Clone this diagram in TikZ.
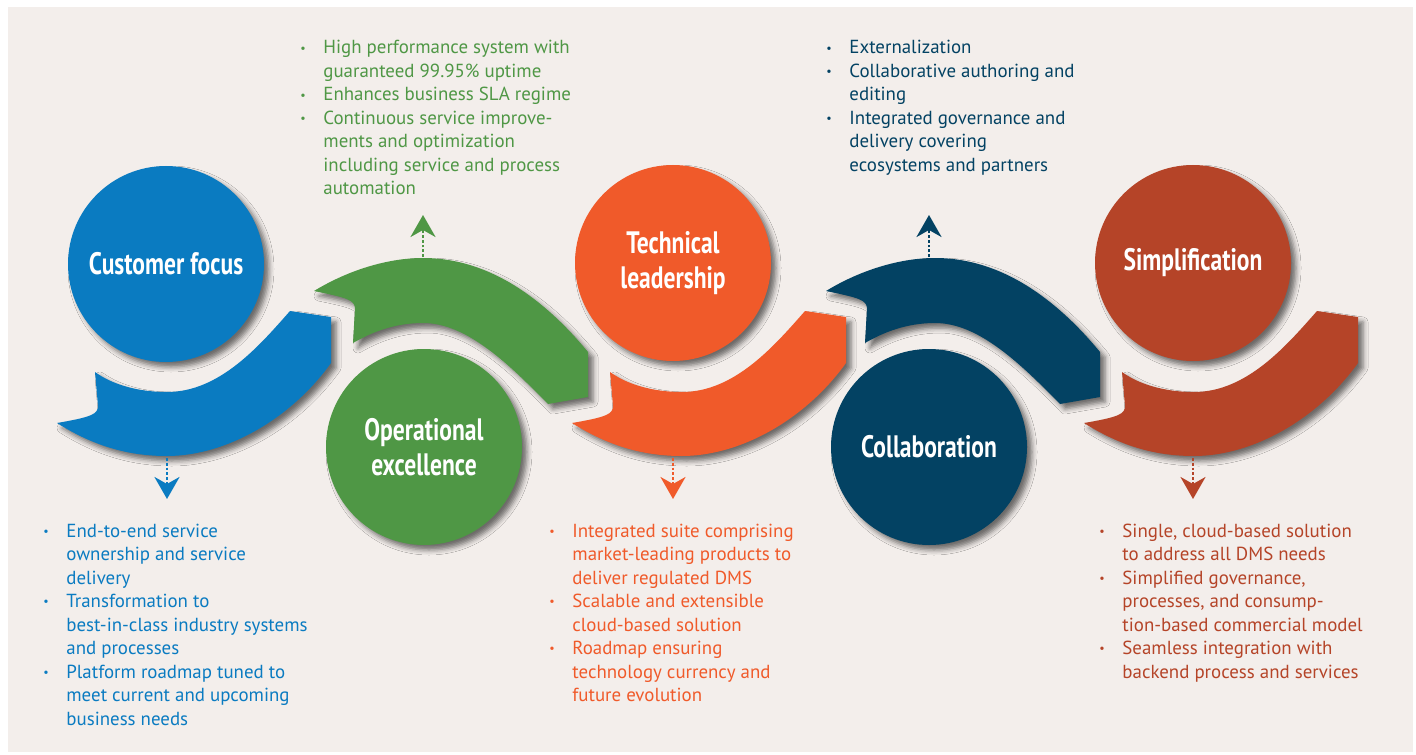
\documentclass[tikz,border=0pt]{standalone}
\usepackage{fontspec}
\setmainfont{PT Sans}
\newfontfamily\titlefont[FakeStretch=0.76]{PT Sans}
\usetikzlibrary{arrows.meta,shadows.blur}

\definecolor{cblue}{HTML}{0A7BC1}
\definecolor{cgreen}{HTML}{4F9745}
\definecolor{corange}{HTML}{F05A2A}
\definecolor{cnavy}{HTML}{034263}
\definecolor{cred}{HTML}{B54428}
\definecolor{panel}{HTML}{F3EEEB}

\newcommand{\bul}{\raisebox{0.2ex}{\fontsize{6}{6}\selectfont\textbullet}}

\begin{document}
\begin{tikzpicture}[x=0.5pt,y=-0.5pt]
    % --- Styles ---
    \tikzset{
        band/.style={
            blur shadow={shadow xshift=2.5pt, shadow yshift=-2.5pt,
                         shadow blur radius=2.5pt, shadow opacity=55}
        },
        pillar/.style={
            circle, fill=#1, minimum size=98pt, inner sep=0pt,
            text=white, align=center, band,
            font=\titlefont\bfseries\fontsize{15.5}{17.5}\selectfont
        },
        pointer/.style={
            draw=#1, line width=1.4pt, densely dotted,
            -{Stealth[length=11pt, width=12.5pt, inset=3.5pt, fill=#1]}
        },
        bullets/.style={
            anchor=base west, inner sep=0pt, text=#1,
            font=\fontsize{9.45}{11.75}\selectfont
        }
    }

    \useasboundingbox (0,0) rectangle (1416,754);

    % =========================================================
    % 1. PANEL
    % =========================================================
    \fill[panel] (8,7) rectangle (1413,752);

    % =========================================================
    % 2. CURVED BANDS
    % =========================================================
    % Lower bands (under the top circles)
    \foreach \dx/\col in {0/cblue, 515/corange, 1027/cred} {
      \begin{scope}[shift={(\dx,0)}]
        \fill[\col, band]
          (57,423) .. controls (95,447) and (130,456) .. (167,456)
          .. controls (225,456) and (290,420) .. (331,363)
          -- (331,317) -- (290,311)
          .. controls (260,345) and (220,392) .. (167,392)
          .. controls (135,392) and (110,383) .. (95,372)
          -- (98,406) .. controls (98,414) and (92,417) .. (57,423) -- cycle;
      \end{scope}
    }

    % Upper bands (over the bottom circles)
    \foreach \dx/\col in {0/cgreen, 512/cnavy} {
      \begin{scope}[shift={(\dx,0)}]
        \fill[\col, band]
          (314,291) .. controls (345,272) and (385,258) .. (423,258)
          .. controls (490,258) and (545,300) .. (588,352)
          -- (588,397) -- (548,404)
          .. controls (505,360) and (465,323) .. (423,323)
          .. controls (395,323) and (372,332) .. (353,343)
          -- (355,308) .. controls (354,300) and (348,298) .. (314,291) -- cycle;
      \end{scope}
    }

    % =========================================================
    % 3. CIRCLES
    % =========================================================
    \node[pillar=cblue]   (cust)   at (166,264) {Customer focus};
    \node[pillar=cgreen]  (oper)   at (424,447) {Operational\\excellence};
    \node[pillar=corange] (tech)   at (673,263) {Technical\\leadership};
    \node[pillar=cnavy]   (collab) at (929,447) {Collaboration};
    \node[pillar=cred]    (simp)   at (1193,263) {Simplification};

    % =========================================================
    % 4. DOTTED POINTERS
    % =========================================================
    \coordinate (cust-a)   at (167,458);  \coordinate (cust-b)   at (167,499);
    \coordinate (oper-a)   at (423,257);  \coordinate (oper-b)   at (423,215);
    \coordinate (tech-a)   at (673,458);  \coordinate (tech-b)   at (673,499);
    \coordinate (collab-a) at (929,257);  \coordinate (collab-b) at (929,215);
    \coordinate (simp-a)   at (1193,458); \coordinate (simp-b)   at (1193,499);

    \draw[pointer=cblue]   (cust-a)   -- (cust-b);
    \draw[pointer=cgreen]  (oper-a)   -- (oper-b);
    \draw[pointer=corange] (tech-a)   -- (tech-b);
    \draw[pointer=cnavy]   (collab-a) -- (collab-b);
    \draw[pointer=cred]    (simp-a)   -- (simp-b);

    % =========================================================
    % 5. BULLET TEXTS
    % =========================================================
    \node[bullets=cgreen] (oper-txt) at (300,54) {%
      \begin{tabular}[t]{@{}p{11.5pt}@{}l@{}}
        \bul & High performance system with\\
             & guaranteed 99.95\% uptime\\
        \bul & Enhances business SLA regime\\
        \bul & Continuous service improve-\\
             & ments and optimization\\
             & including service and process\\
             & automation
      \end{tabular}};

    \node[bullets=cnavy] (collab-txt) at (826,54) {%
      \begin{tabular}[t]{@{}p{11.5pt}@{}l@{}}
        \bul & Externalization\\
        \bul & Collaborative authoring and\\
             & editing\\
        \bul & Integrated governance and\\
             & delivery covering\\
             & ecosystems and partners
      \end{tabular}};

    \node[bullets=cblue] (cust-txt) at (43,537) {%
      \begin{tabular}[t]{@{}p{11.5pt}@{}l@{}}
        \bul & End-to-end service\\
             & ownership and service\\
             & delivery\\
        \bul & Transformation to\\
             & best-in-class industry systems\\
             & and processes\\
        \bul & Platform roadmap tuned to\\
             & meet current and upcoming\\
             & business needs
      \end{tabular}};

    \node[bullets=corange] (tech-txt) at (549,537) {%
      \begin{tabular}[t]{@{}p{11.5pt}@{}l@{}}
        \bul & Integrated suite comprising\\
             & market-leading products to\\
             & deliver regulated DMS\\
        \bul & Scalable and extensible\\
             & cloud-based solution\\
        \bul & Roadmap ensuring\\
             & technology currency and\\
             & future evolution
      \end{tabular}};

    \node[bullets=cred] (simp-txt) at (1099,537) {%
      \begin{tabular}[t]{@{}p{11.5pt}@{}l@{}}
        \bul & Single, cloud-based solution\\
             & to address all DMS needs\\
        \bul & Simplified governance,\\
             & processes, and consump-\\
             & tion-based commercial model\\
        \bul & Seamless integration with\\
             & backend process and services
      \end{tabular}};

\end{tikzpicture}
\end{document}
